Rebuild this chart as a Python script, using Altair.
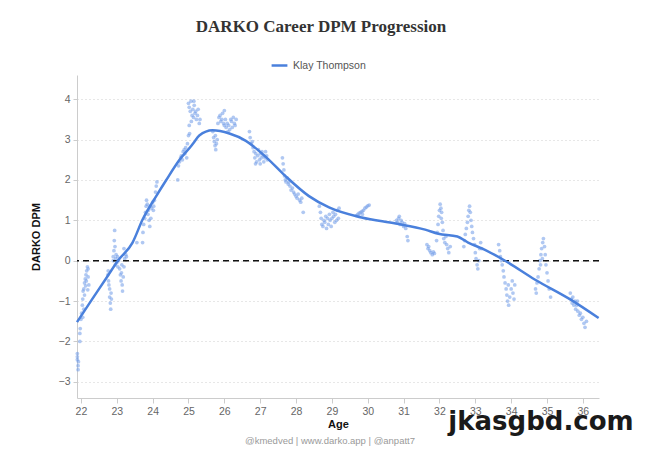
import altair as alt
import pandas as pd

# ---- smoothed career curve (age, DARKO DPM) ----
line_age = [21.89, 22.3, 22.7, 23.03, 23.44, 23.72, 24.1, 24.38, 24.75, 25.08, 25.15,
            25.3, 25.67, 26.14, 26.6, 27.17, 27.7, 28.36, 28.92, 29.83, 30.78, 31.6,
            31.97, 32.5, 32.8, 33.27, 33.83, 34.67, 35.67, 36.44]
line_val = [-1.52, -0.97, -0.44, 0.0, 0.45, 1.02, 1.6, 2.0, 2.5, 2.85, 2.93,
            3.1, 3.23, 3.15, 2.97, 2.56, 2.1, 1.6, 1.32, 1.07, 0.92, 0.77,
            0.67, 0.6, 0.45, 0.27, 0.0, -0.47, -0.97, -1.42]

# ---- daily DPM values by season (age, value) ----
s2012 = [(21.9, -2.3), (21.9, -2.45), (21.92, -2.6), (21.92, -2.7), (21.93, -2.5), (21.9, -2.38),
         (21.97, -1.8), (21.98, -1.68), (21.97, -2.0), (22.0, -1.45), (22.02, -1.3), (22.04, -1.1),
         (22.05, -0.95), (22.06, -0.75), (22.08, -0.7), (22.1, -0.55), (22.12, -0.45), (22.14, -0.35),
         (22.15, -0.5), (22.16, -0.25), (22.18, -0.15), (22.2, -0.2), (22.2, -0.4), (22.22, -0.6),
         (22.19, -0.72), (22.13, -0.62), (22.1, -0.85), (22.08, -1.2), (22.05, -1.4)]
s2013 = [(22.75, -0.35), (22.77, -0.5), (22.8, -0.7), (22.8, -0.9), (22.82, -1.05), (22.83, -1.2),
         (22.85, -0.95), (22.78, -0.6), (22.76, -0.25), (22.84, -0.8), (22.9, 0.1), (22.92, 0.25),
         (22.93, 0.5), (22.94, 0.75), (22.95, 0.35), (22.97, 0.05), (22.98, 0.15), (23.0, -0.05),
         (23.02, 0.1), (22.96, -0.1), (22.9, 0.0), (23.05, 0.0), (23.03, -0.15), (23.08, -0.2),
         (23.1, -0.35), (23.12, -0.5), (23.13, -0.3), (23.15, -0.6), (23.16, -0.75), (23.18, -0.4),
         (23.2, -0.15), (23.22, 0.05), (23.25, 0.15), (23.2, 0.3), (23.14, -0.1), (23.27, 0.1)]
s2014 = [(23.56, 0.45), (23.72, 0.45), (23.73, 0.7), (23.75, 0.9), (23.78, 1.05), (23.8, 1.2),
         (23.82, 1.35), (23.83, 1.5), (23.85, 1.4), (23.87, 1.15), (23.9, 1.0), (23.92, 0.85),
         (23.95, 1.05), (23.97, 1.3), (24.0, 1.45), (24.02, 1.25), (24.05, 1.5), (24.08, 1.7),
         (24.1, 1.85), (24.12, 1.95), (23.88, 1.25), (23.93, 1.35), (24.03, 1.35)]
s2015 = [(24.7, 2.0), (24.72, 2.35), (24.75, 2.45), (24.78, 2.55), (24.8, 2.6), (24.83, 2.5),
         (24.85, 2.7), (24.88, 2.75), (24.9, 2.65), (24.92, 2.8), (24.95, 2.55), (24.97, 2.9),
         (25.0, 3.1), (25.02, 3.35), (25.03, 3.15), (25.0, 3.9), (25.02, 3.8), (25.05, 3.7),
         (25.07, 3.95), (25.1, 3.6), (25.12, 3.75), (25.14, 3.55), (25.16, 3.85), (25.18, 3.65),
         (25.2, 3.7), (25.22, 3.5), (25.25, 3.6), (25.27, 3.75), (25.3, 3.4), (25.32, 3.5),
         (25.15, 3.95), (25.08, 3.45)]
s2016 = [(25.68, 3.2), (25.7, 3.05), (25.72, 2.95), (25.74, 2.85), (25.76, 2.75), (25.78, 2.9),
         (25.8, 3.0), (25.75, 3.1), (25.82, 3.4), (25.85, 3.55), (25.88, 3.6), (25.9, 3.45),
         (25.93, 3.5), (25.95, 3.65), (25.98, 3.4), (26.0, 3.35), (26.03, 3.5), (26.05, 3.3),
         (26.08, 3.4), (26.1, 3.2), (26.12, 3.35), (26.15, 3.25), (26.18, 3.5), (26.2, 3.45),
         (26.22, 3.3), (26.25, 3.55), (26.28, 3.4), (26.3, 3.35), (26.33, 3.5), (26.0, 3.72)]
s2017 = [(26.7, 3.2), (26.72, 3.05), (26.75, 2.9), (26.78, 2.95), (26.8, 2.8), (26.83, 2.7),
         (26.85, 2.55), (26.88, 2.65), (26.9, 2.45), (26.93, 2.6), (26.95, 2.75), (26.98, 2.5),
         (27.0, 2.65), (27.03, 2.55), (27.05, 2.7), (27.08, 2.6), (27.1, 2.45), (27.13, 2.55),
         (27.15, 2.7), (27.18, 2.6), (27.2, 2.5), (26.87, 2.4), (27.0, 2.4)]
s2018 = [(27.62, 2.55), (27.64, 2.4), (27.66, 2.25), (27.68, 2.1), (27.7, 2.0), (27.72, 1.95),
         (27.75, 2.05), (27.78, 1.9), (27.8, 1.95), (27.83, 1.85), (27.86, 1.75), (27.9, 1.8),
         (27.93, 1.7), (27.96, 1.65), (28.0, 1.6), (28.03, 1.55), (28.06, 1.65), (28.1, 1.5),
         (28.13, 1.45), (28.16, 1.55), (28.2, 1.2)]
s2019 = [(28.65, 1.35), (28.68, 1.2), (28.7, 1.05), (28.72, 0.9), (28.75, 0.85), (28.78, 1.0),
         (28.8, 0.95), (28.83, 1.1), (28.85, 0.8), (28.88, 1.05), (28.9, 0.9), (28.93, 1.15),
         (28.95, 1.0), (28.98, 0.85), (29.0, 1.05), (29.03, 1.2), (29.05, 1.1), (29.08, 0.95),
         (29.1, 1.15), (29.13, 1.0), (29.15, 1.25), (29.18, 1.05), (29.2, 1.3)]
s2020 = [(29.68, 1.12), (29.72, 1.15), (29.76, 1.18), (29.8, 1.2), (29.84, 1.22), (29.88, 1.25),
         (29.92, 1.3), (29.96, 1.33), (30.0, 1.36), (30.04, 1.38), (29.75, 1.1), (29.85, 1.15)]
s2022 = [(30.8, 1.0), (30.83, 0.95), (30.86, 1.05), (30.9, 0.9), (30.93, 1.0), (30.96, 0.95),
         (31.0, 0.85), (31.03, 0.92), (31.06, 0.8), (31.1, 0.6), (31.12, 0.5), (30.88, 1.1)]
s2023 = [(31.65, 0.4), (31.68, 0.3), (31.7, 0.35), (31.73, 0.25), (31.76, 0.2), (31.8, 0.15),
         (31.83, 0.22), (31.86, 0.18), (31.92, 0.5), (31.94, 0.7), (31.96, 0.9), (31.98, 1.1),
         (32.0, 1.25), (32.02, 1.4), (32.04, 1.3), (32.06, 1.2), (32.08, 0.95), (32.1, 0.75),
         (32.12, 0.55), (32.15, 0.45), (32.18, 0.6), (32.2, 0.4), (32.23, 0.3), (32.26, 0.2),
         (32.3, 0.35), (32.05, 1.05)]
s2024 = [(32.68, 0.35), (32.7, 0.5), (32.72, 0.65), (32.75, 0.8), (32.78, 0.95), (32.8, 1.1),
         (32.82, 1.25), (32.84, 1.35), (32.86, 1.2), (32.88, 1.0), (32.9, 0.85), (32.92, 0.7),
         (32.95, 0.55), (32.98, 0.4), (33.0, 0.2), (33.02, 0.05), (33.05, -0.1), (33.07, -0.2),
         (33.1, 0.0), (33.12, 0.3), (33.15, 0.45), (33.18, 0.3)]
s2025 = [(33.65, 0.4), (33.68, 0.25), (33.7, 0.1), (33.72, 0.0), (33.75, -0.1), (33.78, -0.25),
         (33.8, -0.4), (33.83, -0.55), (33.86, -0.7), (33.88, -0.85), (33.9, -1.0), (33.93, -1.1),
         (33.96, -0.9), (34.0, -0.7), (34.03, -0.5), (34.05, -0.8), (34.08, -0.95), (34.1, -0.6),
         (33.92, -0.6)]
s2026 = [(34.68, -0.7), (34.7, -0.8), (34.72, -0.55), (34.75, -0.4), (34.78, -0.2), (34.8, 0.0),
         (34.83, 0.15), (34.85, 0.3), (34.88, 0.45), (34.9, 0.55), (34.93, 0.35), (34.95, 0.15),
         (34.97, -0.1), (35.0, -0.3), (35.03, -0.5), (35.06, -0.7), (35.1, -0.9), (34.87, 0.05),
         (34.82, -0.1)]
s2027 = [(35.65, -0.8), (35.68, -0.95), (35.7, -1.05), (35.72, -0.9), (35.75, -1.1), (35.78, -1.0),
         (35.8, -1.2), (35.83, -1.1), (35.86, -1.25), (35.9, -1.35), (35.93, -1.3), (35.96, -1.45),
         (36.0, -1.4), (36.03, -1.55), (36.06, -1.65), (36.1, -1.5), (35.85, -1.0)]

x_ticks = list(range(22, 37))
y_ticks = [-3, -2, -1, 0, 1, 2, 3, 4]
player = "Klay Thompson"

seasons = [s2012, s2013, s2014, s2015, s2016, s2017, s2018, s2019, s2020,
           s2022, s2023, s2024, s2025, s2026, s2027]
pts = [p for s in seasons for p in s]
scatter_df = pd.DataFrame({"age": [p[0] for p in pts], "dpm": [p[1] for p in pts]})
line_df = pd.DataFrame({"age": line_age, "dpm": line_val, "player": player})

W, H = 522, 323
xscale = alt.Scale(domain=[21.89, 36.45], nice=False, zero=False)
yscale = alt.Scale(domain=[-3.4, 4.6], nice=False, zero=False)

label_font = "Liberation Sans"

xaxis = alt.Axis(values=x_ticks, tickCount=15, title="Age", grid=False, labelFontSize=10.5,
                 labelColor="#666666", labelFont=label_font, domainColor="#cccccc",
                 tickColor="#cccccc", tickSize=5, titleFont=label_font, titleFontSize=11,
                 titleFontWeight="bold", titleColor="#111111", titlePadding=2, labelPadding=3,
                 labelOverlap=False, labelFlush=False)
yaxis = alt.Axis(values=y_ticks, title="DARKO DPM", grid=True, gridDash=[1, 3],
                 gridColor="#cfcfcf", labelFontSize=10.5, labelColor="#666666",
                 labelFont=label_font, domainColor="#cccccc", tickColor="#cccccc", tickSize=4,
                 titleFont=label_font, titleFontSize=11, titleFontWeight="bold",
                 titleColor="#111111", titlePadding=17, labelPadding=3, labelOverlap=False)

points = alt.Chart(scatter_df).mark_circle(size=14, color="#6f9be8", opacity=0.55).encode(
    x=alt.X("age:Q", scale=xscale, axis=xaxis),
    y=alt.Y("dpm:Q", scale=yscale, axis=yaxis),
)

zero = alt.Chart(pd.DataFrame({"y": [0]})).mark_rule(
    color="#111111", strokeDash=[6, 4], strokeWidth=1.5).encode(
    y=alt.Y("y:Q", scale=yscale, axis=yaxis))

line = alt.Chart(line_df).mark_line(strokeWidth=2.5, interpolate="monotone").encode(
    x=alt.X("age:Q", scale=xscale, axis=xaxis),
    y=alt.Y("dpm:Q", scale=yscale, axis=yaxis),
    color=alt.Color("player:N", scale=alt.Scale(domain=[player], range=["#4a80dc"]),
                    legend=alt.Legend(title=None, orient="none", legendX=193, legendY=-19,
                                      symbolType="stroke", symbolStrokeWidth=2.5,
                                      symbolSize=250, labelFontSize=10.5,
                                      labelFont=label_font, labelColor="#555555")),
)

footer = alt.Chart(pd.DataFrame({"t": ["@kmedved | www.darko.app | @anpatt7"]})).mark_text(
    fontSize=9.5, color="#9a9a9a", font=label_font).encode(
    text="t:N", x=alt.value(253), y=alt.value(H + 43))

watermark = alt.Chart(pd.DataFrame({"t": ["jkasgbd.com"]})).mark_text(
    fontSize=26, fontWeight="bold", color="#1a1a1a", font="DejaVu Sans",
    baseline="alphabetic").encode(
    text="t:N", x=alt.value(464), y=alt.value(H + 32))

chart = alt.layer(points, zero, line, footer, watermark).properties(
    width=W, height=H,
    title=alt.TitleParams("DARKO Career DPM Progression", font="Liberation Serif",
                          fontSize=17, fontWeight="bold", color="#333333",
                          anchor="middle", dx=-17, offset=20),
    autosize=alt.AutoSizeParams(type="none"),
    padding={"left": 69, "top": 67, "right": 40, "bottom": 55},
).configure_view(stroke=None)

chart.save("out.html", embed_options={"renderer": "svg", "actions": False})
